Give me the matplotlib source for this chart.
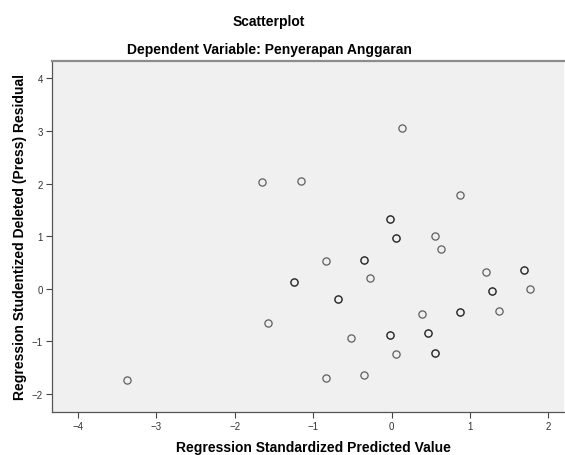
import matplotlib
matplotlib.use("Agg")
import matplotlib.pyplot as plt

plt.rcParams['font.family'] = ['Liberation Sans', 'DejaVu Sans']

# standardized predicted value vs studentized deleted residual
# (cases that sit almost on top of each other are listed twice)
pred = [0.14, 0.875, -0.02, -0.02, 0.06, 0.06, 0.55, 0.625,
        -1.655, -1.16, -0.84, -0.35, -0.35, -0.27, -1.246, -1.246,
        -0.68, -0.68, -1.57, -0.515, -0.02, -0.02, 0.06, 0.39,
        0.47, 0.47, 0.55, 0.55, 0.875, 0.875, 1.20, 1.69, 1.69,
        1.28, 1.28, 1.77, 1.365, -0.84, -0.35, -3.37]
resid = [3.06, 1.785, 1.33, 1.33, 0.96, 0.96, 1.0, 0.75,
         2.04, 2.05, 0.526, 0.55, 0.55, 0.20, 0.133, 0.133,
         -0.20, -0.20, -0.64, -0.94, -0.87, -0.87, -1.23, -0.475,
         -0.83, -0.83, -1.22, -1.22, -0.44, -0.44, 0.32, 0.355, 0.355,
         -0.05, -0.05, -0.01, -0.42, -1.69, -1.645, -1.73]

xticks = [-4, -3, -2, -1, 0, 1, 2]
yticks = [-2, -1, 0, 1, 2, 3, 4]

fig = plt.figure(figsize=(5.65, 4.56), dpi=100)
ax = fig.add_axes([52 / 565, 43 / 456, 512 / 565, 351 / 456])
ax.set_facecolor('#f0f0f0')

ax.plot(pred, resid, linestyle='none', marker='o', markersize=5.2,
        markerfacecolor='none', markeredgecolor=(0, 0, 0, 0.6),
        markeredgewidth=0.9)

ax.set_xlim(-4.33, 2.20)
ax.set_ylim(-2.34, 4.33)
ax.set_xticks(xticks)
ax.set_yticks(yticks)
ax.tick_params(direction='out', length=4.5, width=0.8, color='#444444',
               labelsize=7, labelcolor='#333333', pad=2)

for side in ['left', 'bottom']:
    ax.spines[side].set_color('#555555')
    ax.spines[side].set_linewidth(0.9)
ax.spines['top'].set_color('#8c8c8c')
ax.spines['top'].set_linewidth(1.6)
ax.spines['right'].set_visible(False)

ax.set_xlabel('Regression Standardized Predicted Value', fontsize=10,
              fontweight='bold', va='center')
ax.set_ylabel('Regression Studentized Deleted (Press) Residual', fontsize=10,
              fontweight='bold', va='center')
# place the labels in pixels of the figure
ax.xaxis.set_label_coords((313 - 52) / 512, (413 - 448) / 351)
ax.yaxis.set_label_coords((20 - 52) / 512, (413 - 237) / 351)

fig.text(269 / 565, 1 - 22 / 456, 'Scatterplot', ha='center', va='center',
         fontsize=10, fontweight='bold')
fig.text(269 / 565, 1 - 50 / 456, 'Dependent Variable: Penyerapan Anggaran',
         ha='center', va='center', fontsize=10, fontweight='bold')

fig.savefig('out.png', dpi=100, facecolor='white')
